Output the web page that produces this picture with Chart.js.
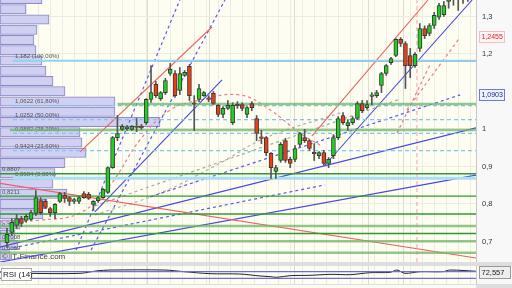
<!DOCTYPE html>
<html>
<head>
<meta charset="utf-8">
<script src="https://cdn.jsdelivr.net/npm/chart.js@4.4.1/dist/chart.umd.min.js"></script>
<style>
  html, body { margin: 0; padding: 0; background: #fff; }
  #wrap { position: relative; width: 512px; height: 288px; overflow: hidden; background: #dedede; }
  #main { position: absolute; left: 0; top: 0; }
  #rsi { position: absolute; left: 0; top: 266px; }
  #foot { position: absolute; left: 0; top: 285px; width: 476px; height: 3px; background: #fbfbf2; }
</style>
</head>
<body>
<div id="wrap">
  <canvas id="main" width="512" height="262"></canvas>
  <canvas id="rsi" width="512" height="18"></canvas>
  <div id="foot"></div>
</div>
<script>
// weekly candles
const candleOpen = [0.697,0.724,0.743,0.761,0.756,0.759,0.775,0.809,0.807,0.788,0.777,0.807,0.823,0.817,0.807,0.807,0.828,0.826,0.799,0.809,
  0.817,0.831,0.897,0.977,0.999,1.001,0.999,1.004,1.004,1.017,1.079,1.119,1.081,1.097,1.148,1.148,1.103,1.143,1.167,1.068,
  1.079,1.089,1.083,1.095,1.063,1.039,1.055,1.017,1.063,1.065,1.039,1.068,1.028,0.976,0.977,0.935,0.887,0.916,0.969,0.919,
  0.919,0.959,0.977,0.969,0.936,0.929,0.937,0.908,0.929,0.977,1.036,1.009,1.017,1.028,1.068,1.057,1.087,1.089,1.116,1.148,
  1.177,1.196,1.239,1.228,1.196,1.169,1.215,1.268,1.255,1.276,1.298,1.305,1.340,1.345,1.360,1.350,1.370];
const candleClose = [0.719,0.751,0.761,0.748,0.767,0.777,0.817,0.777,0.791,0.777,0.799,0.828,0.815,0.807,0.812,0.817,0.817,0.815,0.807,0.817,
  0.839,0.897,0.977,0.988,1.007,1.004,1.007,1.005,1.003,1.079,1.097,1.089,1.097,1.129,1.159,1.089,1.148,1.151,1.089,1.066,
  1.108,1.097,1.079,1.068,1.039,1.055,1.063,1.063,1.062,1.055,1.057,1.057,0.988,0.975,0.937,0.897,0.897,0.959,0.916,0.908,
  0.948,0.988,0.969,0.948,0.934,0.937,0.908,0.919,0.977,1.028,1.017,1.017,1.028,1.068,1.049,1.065,1.088,1.097,1.148,1.169,
  1.188,1.239,1.228,1.169,1.169,1.199,1.268,1.249,1.276,1.303,1.329,1.329,1.342,1.360,1.350,1.370,1.380];
const candleHigh = [0.735,0.761,0.772,0.767,0.772,0.783,0.836,0.817,0.812,0.791,0.801,0.831,0.831,0.820,0.815,0.820,0.833,0.831,0.809,0.820,
  0.841,0.899,0.980,1.036,1.012,1.009,1.009,1.028,1.012,1.081,1.169,1.127,1.100,1.135,1.175,1.156,1.164,1.156,1.172,1.089,
  1.119,1.100,1.089,1.100,1.065,1.060,1.076,1.070,1.073,1.070,1.060,1.073,1.036,0.996,0.980,0.937,0.903,0.964,0.975,0.925,
  0.956,0.991,0.999,0.972,0.961,0.940,0.943,0.924,0.985,1.033,1.044,1.025,1.033,1.073,1.076,1.076,1.097,1.103,1.151,1.172,
  1.191,1.241,1.244,1.233,1.215,1.204,1.281,1.275,1.281,1.311,1.335,1.340,1.360,1.370,1.370,1.380,1.390];
const candleLow = [0.684,0.716,0.735,0.740,0.751,0.756,0.769,0.772,0.788,0.767,0.761,0.804,0.804,0.796,0.801,0.801,0.815,0.812,0.783,0.804,
  0.815,0.828,0.895,0.969,0.996,0.996,0.996,0.993,0.999,1.012,1.071,1.084,1.076,1.092,1.143,1.084,1.092,1.140,1.076,0.996,
  1.073,1.087,1.073,1.065,1.033,1.030,1.052,1.012,1.055,1.049,1.030,1.049,0.969,0.961,0.929,0.868,0.868,0.911,0.911,0.897,
  0.913,0.953,0.964,0.943,0.916,0.921,0.903,0.897,0.921,0.972,1.012,0.996,1.012,1.025,1.044,1.052,1.065,1.084,1.097,1.143,
  1.172,1.193,1.220,1.108,1.137,1.164,1.207,1.241,1.249,1.268,1.292,1.300,1.322,1.330,1.316,1.335,1.340];

// volume-by-price profile on the left
const profilePrice = [1.3467,1.3193,1.2920,1.2647,1.2373,1.2100,1.1827,1.1553,1.1280,1.1007,1.0733,1.0460,1.0187,
  0.9913,0.9640,0.9367,0.9093,0.8820,0.8547,0.8273,0.8000,0.7727,0.7453,0.7180,0.6907,0.6633];
const profileVolume = [42,26,49,37,34,36,42,46,53,65,115,115,160,80,82,86,65,55,53,67,47,43,20,15,18,10];

// fibonacci retracement
const fibLevels = [1.182, 1.0622, 1.0252, 0.9882, 0.9424, 0.8684];
const fibLabels = ['1,182 (100,00%)', '1,0622 (61,80%)', '1,0252 (50,00%)', '0,9882 (38,20%)', '0,9424 (23,60%)', '0,8684 (0,00%)'];
const fibStart = 1.25;

// horizontal supports / resistances
const supportLevels = [1.0667, 0.9973, 0.8807, 0.8211, 0.7733, 0.7413, 0.7213, 0.7008, 0.6699];
const supportStart = [23, 0.6, -1.5, -1.5, -1.5, -1.5, -1.5, -1.5, -1.5];
const supportLabelValues = [0.8807, 0.8211, 0.7313, 0.7008, 0.6699];
const supportLabelTexts = ['0,8807', '0,8211', '0,731', '0,7008', '0,6699'];
const resistanceLevel = 1.182;
const resistanceStart = 31.25;

// trend lines [x1, price1, x2, price2], x in candle index
const redLines = [[15.2, 0.939, 42.7, 1.272], [63.5, 0.981, 87.7, 1.344], [-1.46, 0.855, 97.7, 0.656]];
const blueLines = [[-1.46, 0.645, 97.7, 0.877], [-1.46, 0.685, 97.7, 1.003], [66.25, 0.904, 96.9, 1.344], [18.3, 0.779, 44.8, 1.131]];
const blueDashLines = [[14.4, 0.677, 36.0, 1.344], [17.5, 0.677, 45.4, 1.344], [29.8, 0.819, 94.4, 1.091], [1.25, 0.683, 66.25, 0.851]];
const redDashLines = [[81.25, 0.989, 88.1, 1.171], [83.3, 1.051, 94.4, 1.245]];
const grayDashLines = [[18.3, 0.795, 81.9, 1.080]];
// dashed averages
const averageX = [-1.46, 6.9, 15.2, 21.5, 27.7, 34.0, 40.2, 48.5, 54.8, 61.0, 65.2];
const averageY = [0.752, 0.757, 0.776, 0.851, 0.971, 1.051, 1.077, 1.091, 1.051, 0.989, 0.957];
const slowAverageX = [18.3, 31.9, 44.4, 53.8, 69.4];
const slowAverageY = [0.771, 0.829, 0.909, 0.976, 1.043];
const markerX = 85.4;

// right axis
const priceTicks = [0.7, 0.8, 0.9, 1, 1.2, 1.3];
const markerValues = [1.2455, 1.0903];
const markerTexts = ['1,2455', '1,0903'];

// RSI(14)
const rsiX = [-1.46, 4.8, 15.2, 18.75, 21.5, 32.9, 36.9, 42.3, 48.5, 52.7, 54.8, 56.25, 59, 63.1, 67.3, 71.5, 75.6, 79.8, 81.25, 82.9, 86, 90.8, 92.3, 97.7];
const rsiValues = [68, 60, 60, 75, 80, 80, 70, 58, 56, 44, 40, 36, 46, 48, 54, 52, 64, 66, 80, 60, 70, 70, 80, 72.6];
const rsiLevels = [70, 30];
const rsiLast = '72,557';

const X_MIN = -1.46, X_MAX = 97.7;
const Y_MIN = 0.6453, Y_MAX = 1.344;
const FONT = '"Liberation Sans", Arial, sans-serif';

Chart.defaults.font.family = FONT;
Chart.defaults.animation = false;

const idx = candleOpen.map((_, i) => i);
const bodyColors = idx.map(i => candleClose[i] >= candleOpen[i] ? '#1fd11f' : '#ee3d12');

function segment(s, color, width, dash) {
  return {
    type: 'line',
    data: [{ x: s[0], y: s[1] }, { x: s[2], y: s[3] }],
    borderColor: color, borderWidth: width, borderDash: dash || [],
    pointRadius: 0, order: 5
  };
}

function curve(xs, ys, color) {
  return {
    type: 'line', data: xs.map((x, k) => ({ x: x, y: ys[k] })),
    borderColor: color, borderWidth: 1.2, borderDash: [3, 3], tension: 0.4,
    pointRadius: 0, order: 5
  };
}

const datasets = [];
datasets.push({
  type: 'bar', indexAxis: 'y', xAxisID: 'xv', yAxisID: 'yv',
  data: profilePrice.map((p, k) => ({ x: profileVolume[k], y: p })),
  backgroundColor: 'rgba(204,204,242,0.92)', borderColor: '#8c8cc8', borderWidth: 1,
  borderSkipped: false, barThickness: 9.5, grouped: false, order: 10
});
const PROFILE = 0;

supportLevels.forEach((v, k) => {
  const light = [0, 1, 5, 7, 8].includes(k);
  datasets.push(segment([supportStart[k], v, X_MAX, v], light ? 'rgba(110,180,100,0.75)' : '#2f9a2f', light ? 2.5 : 1.3));
});
datasets.push(segment([fibStart, fibLevels[0], X_MAX, fibLevels[0]], '#8fd3f0', 2));
datasets.push(segment([fibStart, fibLevels[5], X_MAX, fibLevels[5]], '#a9def5', 3));
fibLevels.slice(1, 5).forEach(v => datasets.push(segment([fibStart, v, X_MAX, v], '#7cc8ee', 1.3, [4, 3])));
datasets.push(segment([resistanceStart, resistanceLevel, X_MAX, resistanceLevel], '#e0242c', 1.4));

redLines.forEach(s => datasets.push(segment(s, '#f06060', 1.1)));
blueLines.forEach(s => datasets.push(segment(s, '#4848e0', 1.1)));
blueDashLines.forEach(s => datasets.push(segment(s, '#5a5aee', 1.2, [3, 3])));
redDashLines.forEach(s => datasets.push(segment(s, '#f07a8a', 1.2, [3, 3])));
grayDashLines.forEach(s => datasets.push(segment(s, '#a8a8a0', 1.2, [3, 3])));
datasets.push(curve(averageX, averageY, '#f07a8a'));
datasets.push(curve(slowAverageX, slowAverageY, '#b0b0a8'));
datasets.push(segment([markerX, Y_MIN, markerX, Y_MAX], '#f4a0a8', 1, [4, 3]));

datasets.push({
  type: 'bar', data: idx.map(i => ({ x: i, y: [candleLow[i], candleHigh[i]] })),
  backgroundColor: '#555', barThickness: 1, grouped: false, order: 2
});
datasets.push({
  type: 'bar', data: idx.map(i => ({ x: i, y: [candleOpen[i], candleClose[i]] })),
  backgroundColor: bodyColors, borderColor: '#3a3a3a', borderWidth: 1, borderSkipped: false,
  barThickness: 4, minBarLength: 1.5, grouped: false, order: 1
});

// vertical grid: light lines every half period, darker at period breaks
const majorGrid = [18.96, 29.2, 42.1, 59.8, 75.4, 82.5];
const gridIdx = [];
for (let g = -1; g < 98; g += 2.5) gridIdx.push(g);
const allGrid = gridIdx.concat(majorGrid).sort((a, b) => a - b);
const gridColor = c => majorGrid.includes(c.tick && c.tick.value) ? '#dcdcd0' : '#ededdf';

const panelBackground = {
  id: 'panelBackground',
  beforeDraw(chart) {
    const { ctx, chartArea: a } = chart;
    ctx.save();
    ctx.fillStyle = '#f8f8f8';
    ctx.fillRect(0, 0, chart.width, chart.height);
    ctx.fillStyle = '#fdfdf1';
    ctx.fillRect(a.left, a.top, a.right - a.left, a.bottom - a.top);
    ctx.restore();
  }
};

const levelTexts = {
  id: 'levelTexts',
  afterDatasetDraw(chart, args) {
    if (args.index !== PROFILE) return;
    const { ctx, scales } = chart;
    const y = scales.y;
    ctx.save();
    ctx.font = '6px ' + FONT;
    ctx.fillStyle = '#555';
    ctx.textBaseline = 'bottom';
    fibLevels.forEach((v, k) => ctx.fillText(fibLabels[k], 15, y.getPixelForValue(v) - 1));
    supportLabelValues.forEach((v, k) => ctx.fillText(supportLabelTexts[k], 2, y.getPixelForValue(v) - 1));
    ctx.font = '8px ' + FONT;
    ctx.fillStyle = '#444';
    ctx.fillText('\u00a9 IT-Finance.com', 2, 261);
    ctx.restore();
  },
  afterDraw(chart) {
    const { ctx, scales, chartArea: a } = chart;
    const y = scales.y;
    ctx.save();
    ctx.strokeStyle = '#c8c8c8';
    ctx.beginPath();
    ctx.moveTo(a.right + 0.5, 0);
    ctx.lineTo(a.right + 0.5, chart.height);
    ctx.stroke();
    ctx.textBaseline = 'middle';
    ctx.font = '7.5px ' + FONT;
    ctx.fillStyle = '#333';
    priceTicks.forEach(v => ctx.fillText(String(v).replace('.', ','), 482, y.getPixelForValue(v)));
    ctx.font = '7px ' + FONT;
    markerValues.forEach((v, k) => {
      const py = Math.round(y.getPixelForValue(v));
      const red = k === 0;
      ctx.fillStyle = red ? '#fff4f4' : '#eef2ff';
      ctx.fillRect(479.5, py - 5.5, 25, 11);
      ctx.strokeStyle = red ? '#f0c0c0' : '#6d7fc8';
      ctx.strokeRect(479.5, py - 5.5, 25, 11);
      ctx.fillStyle = red ? '#e02020' : '#1c2a80';
      ctx.fillText(markerTexts[k], 481.5, py + 0.5);
    });
    ctx.restore();
  }
};

new Chart(document.getElementById('main'), {
  type: 'bar',
  data: { datasets: datasets },
  options: {
    responsive: false,
    events: [],
    layout: { padding: 0 },
    plugins: { legend: { display: false }, tooltip: { enabled: false } },
    scales: {
      x: {
        type: 'linear', min: X_MIN, max: X_MAX, offset: false,
        afterBuildTicks: s => { s.ticks = allGrid.map(v => ({ value: v })); },
        afterFit: s => { s.height = 0; },
        ticks: { display: false },
        grid: { color: gridColor, drawTicks: false, offset: false },
        border: { display: false }
      },
      xv: { type: 'linear', min: 0, max: 476, display: false, offset: false },
      yv: { type: 'linear', min: Y_MIN, max: Y_MAX, display: false, offset: false },
      y: {
        type: 'linear', position: 'right', min: Y_MIN, max: Y_MAX, offset: false, grace: 0,
        afterBuildTicks: s => { s.ticks = priceTicks.map(v => ({ value: v })); },
        afterFit: s => { s.width = 36; s.paddingTop = 0; s.paddingBottom = 0; },
        ticks: { display: false, padding: 0 },
        grid: { color: '#ececdf', drawTicks: false, offset: false },
        border: { display: false }
      }
    }
  },
  plugins: [panelBackground, levelTexts]
});

const rsiPanel = {
  id: 'rsiPanel',
  beforeDraw(chart) {
    const { ctx, chartArea: a } = chart;
    ctx.save();
    ctx.fillStyle = '#f8f8f8';
    ctx.fillRect(0, 0, chart.width, chart.height);
    ctx.fillStyle = '#fdfdf4';
    ctx.fillRect(a.left, a.top, a.right - a.left, a.bottom - a.top);
    ctx.restore();
  },
  afterDraw(chart) {
    const { ctx, chartArea: a } = chart;
    ctx.save();
    ctx.font = '8px ' + FONT;
    ctx.textBaseline = 'middle';
    ctx.fillStyle = '#fff';
    ctx.fillRect(1.5, 2.5, 30, 12);
    ctx.strokeStyle = '#aaa';
    ctx.strokeRect(1.5, 2.5, 30, 12);
    ctx.fillStyle = '#222';
    ctx.fillText('RSI (14)', 3, 9);
    ctx.fillStyle = '#eeeeee';
    ctx.fillRect(479.5, 0.5, 31, 12);
    ctx.strokeStyle = '#999';
    ctx.strokeRect(479.5, 0.5, 31, 12);
    ctx.fillStyle = '#222';
    ctx.font = '7.5px ' + FONT;
    ctx.fillText(rsiLast, 481.5, 7);
    ctx.strokeStyle = '#c8c8c8';
    ctx.beginPath();
    ctx.moveTo(a.right + 0.5, 0);
    ctx.lineTo(a.right + 0.5, chart.height);
    ctx.stroke();
    ctx.restore();
  }
};

new Chart(document.getElementById('rsi'), {
  type: 'line',
  data: {
    datasets: [
      ...rsiLevels.map(v => ({
        data: [{ x: X_MIN, y: v }, { x: X_MAX, y: v }],
        borderColor: '#7070dd', borderWidth: 1.3, pointRadius: 0
      })),
      {
        data: rsiX.map((x, k) => ({ x: x, y: rsiValues[k] })),
        borderColor: '#222', borderWidth: 1, pointRadius: 0, tension: 0.3
      }
    ]
  },
  options: {
    responsive: false,
    events: [],
    layout: { padding: 0 },
    plugins: { legend: { display: false }, tooltip: { enabled: false } },
    scales: {
      x: {
        type: 'linear', min: X_MIN, max: X_MAX,
        afterBuildTicks: s => { s.ticks = allGrid.map(v => ({ value: v })); },
        afterFit: s => { s.height = 0; },
        ticks: { display: false },
        grid: { color: gridColor, drawTicks: false },
        border: { display: false }
      },
      y: {
        type: 'linear', position: 'right', min: -4.6, max: 104.5,
        afterFit: s => { s.width = 36; },
        ticks: { display: false },
        grid: { display: false },
        border: { display: false }
      }
    }
  },
  plugins: [rsiPanel]
});
</script>
</body>
</html>
